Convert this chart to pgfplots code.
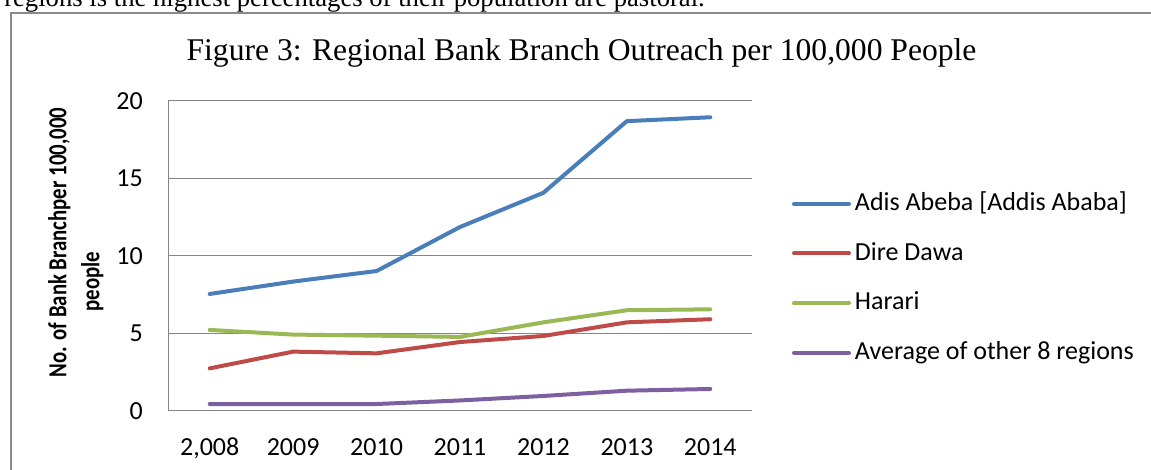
\documentclass[border=0pt]{standalone}
\usepackage{pgfplots}
\pgfplotsset{compat=1.18}
\usepackage{fontspec}
\setmainfont{Carlito}
\newfontfamily\timesfont{Liberation Serif}
\definecolor{sBlue}{HTML}{4A7EBB}
\definecolor{sRed}{HTML}{BE4B48}
\definecolor{sGreen}{HTML}{98B954}
\definecolor{sPurple}{HTML}{7D60A0}
\definecolor{gridgray}{HTML}{868686}
\definecolor{framegray}{HTML}{8A8A8A}
\begin{document}
\begin{tikzpicture}[x=0.75pt,y=0.75pt]
\clip (0,0) rectangle (1151,470);
\node[anchor=base west, inner sep=0pt, font=\timesfont\fontsize{20pt}{24pt}\selectfont] at (4,463) {regions is the highest percentages of their population are pastoral.};
\draw[framegray, line width=2.2pt] (11,0) -- (11,457) -- (1151,457);
\node[anchor=base, inner sep=0pt, font=\timesfont\fontsize{23.7pt}{28pt}\selectfont] at (581.5,409) {Figure 3: Regional Bank Branch Outreach per 100,000 People};
\coordinate (AX) at (168,59);
\begin{axis}[
  at={(AX)}, anchor=south west, scale only axis,
  width=438pt, height=232.5pt,
  xmin=-0.5, xmax=6.5, ymin=0, ymax=20,
  xtick={0,...,6}, xticklabels={{2,008},2009,2010,2011,2012,2013,2014},
  ytick={0,5,10,15,20},
  axis x line*=bottom, axis y line*=left,
  axis line style={gridgray, line width=0.75pt, -},
  ymajorgrids, grid style={gridgray, line width=0.75pt},
  major tick length=0pt,
  /pgf/number format/assume math mode=true,
  tick label style={font=\fontsize{19.5pt}{23pt}\selectfont},
  yticklabel style={anchor=east, inner sep=0pt, xshift=-18.75pt},
  xticklabel style={anchor=north, inner sep=0pt, text height=14.6pt, text depth=4pt, yshift=-18.5pt},
  ylabel={\scalebox{1}[1.25]{No. of Bank Branchper 100,000}\\ \scalebox{1}[1.25]{\mbox{people\hspace{59pt}}}},
  ylabel style={at={(axis description cs:-0.158,0.5435)}, anchor=center, align=center,
    font=\bfseries\fontsize{15.6pt}{24.75pt}\selectfont},
  legend style={at={(axis description cs:1.068,0.708)}, anchor=north west,
    draw=none, fill=none, inner sep=0pt, row sep=19.25pt, column sep=3pt,
    font=\fontsize{19.5pt}{23pt}\selectfont,
    nodes={inner sep=0pt, text height=14pt, text depth=4pt}},
  legend cell align=left,
  legend image code/.code={\draw[#1, line width=3pt] (0pt,0pt) -- (41.25pt,0pt);},
  every axis plot/.append style={line width=3pt, line join=round, line cap=round},
]
\addplot[sBlue] coordinates {(0,7.55)(1,8.35)(2,9.03)(3,11.87)(4,14.08)(5,18.7)(6,18.95)};
\addlegendentry{Adis Abeba [Addis Ababa]}
\addplot[sRed] coordinates {(0,2.75)(1,3.83)(2,3.72)(3,4.45)(4,4.84)(5,5.72)(6,5.92)};
\addlegendentry{Dire Dawa}
\addplot[sGreen] coordinates {(0,5.23)(1,4.93)(2,4.86)(3,4.78)(4,5.72)(5,6.5)(6,6.56)};
\addlegendentry{Harari}
\addplot[sPurple] coordinates {(0,0.45)(1,0.45)(2,0.45)(3,0.68)(4,0.97)(5,1.31)(6,1.42)};
\addlegendentry{Average of other 8 regions}
\end{axis}
\end{tikzpicture}
\end{document}
